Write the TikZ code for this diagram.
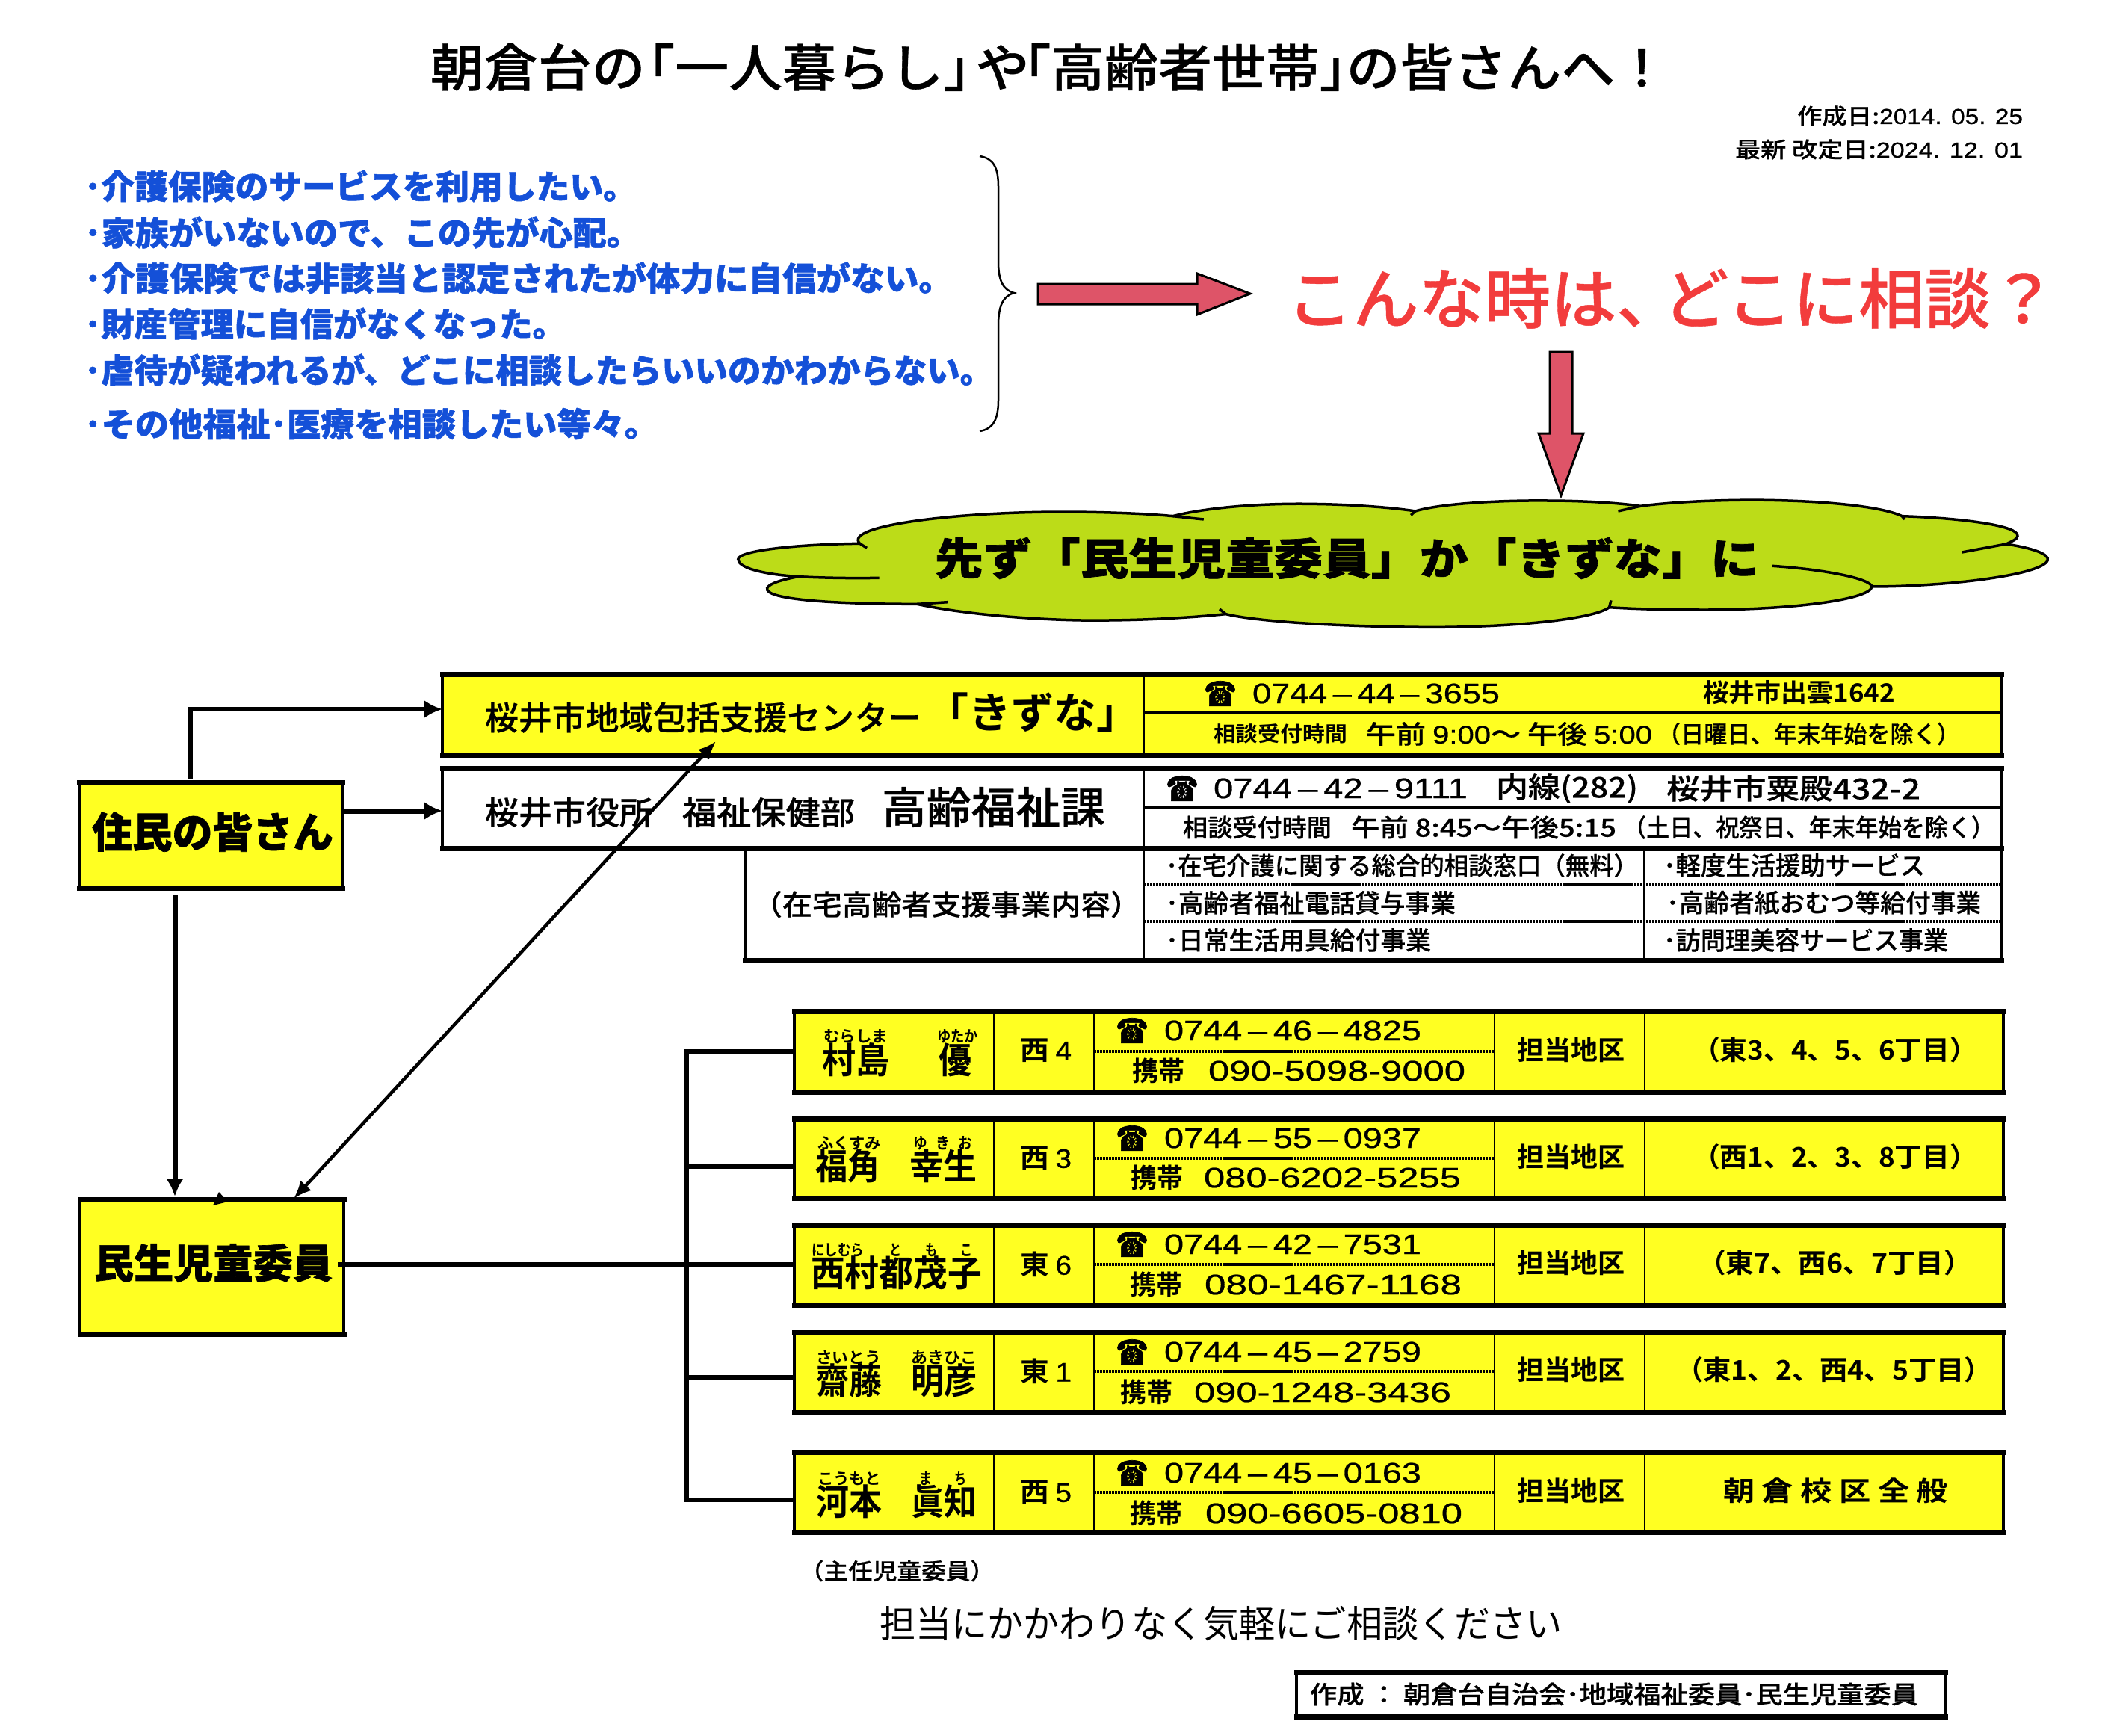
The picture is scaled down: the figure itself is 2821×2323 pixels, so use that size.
\documentclass[tikz,border=0pt]{standalone}
\usepackage{fontspec}
\usepackage{graphicx}
\usetikzlibrary{arrows.meta}
\newfontfamily\jr{Noto Sans CJK JP}
\newfontfamily\jm[FakeBold=0.5]{Noto Sans CJK JP Medium}
\newfontfamily\jb{Noto Sans CJK JP Bold}
\newfontfamily\jk{Noto Sans CJK JP Black}
\newfontfamily\jkk[FakeBold=1.2]{Noto Sans CJK JP Black}
\newfontfamily\ar[FakeBold=0.6]{Liberation Sans}
\newfontfamily\dv[FakeBold=1.5]{DejaVu Sans}
\definecolor{yel}{HTML}{FFFF22}
\definecolor{cloudg}{HTML}{BCDC18}
\definecolor{bluet}{HTML}{1450D8}
\definecolor{redt}{HTML}{F23C3C}
\definecolor{reda}{HTML}{DE5468}
\tikzset{
  txt/.style={inner sep=0pt,outer sep=0pt,anchor=west},
  conn/.style={line width=6pt,black},
  tip/.style={-{Latex[length=24pt,width=24pt]}},
  thin div/.style={line width=2.5pt},
  dots/.style={line width=3.5pt,dash pattern=on 2.5pt off 1.5pt},
  bigarrow/.style={draw=black,line width=3pt,fill=reda,line join=miter},
}
% name, x, y, width, size, text
\newcommand{\tx}[6]{\node[txt] (#1) at (#2,#3) {\resizebox{#4pt}{\height}{\fontsize{#5pt}{#5pt}\selectfont #6}};}
% name, x1, y1, x2, y2, fill
\newcommand{\bx}[6]{%
  \node[draw,line width=4pt,fill=#6,rectangle,inner sep=0pt,outer sep=0pt,
    minimum width={(#4-#2)*1pt},minimum height={(#5-#3)*1pt}] (#1) at ({(#2+#4)/2},{(#3+#5)/2}) {};
  \draw[line width=7pt,line cap=rect] (#1.north west) -- (#1.north east);
  \draw[line width=7pt,line cap=rect] (#1.south west) -- (#1.south east);}
% member row: name, top, bottom, mid
\newcommand{\mrow}[4]{%
  \bx{#1}{1063}{#2}{2681}{#3}{yel}
  \draw[thin div] (1330,#2) -- (1330,#3);
  \draw[thin div] (1464,#2) -- (1464,#3);
  \draw[thin div] (2000,#2) -- (2000,#3);
  \draw[thin div] (2201,#2) -- (2201,#3);
  \draw[dots] (1464,#4) -- (2000,#4);
  \tx{#1area}{2030}{#4-2}{144}{36}{\jb 担当地区}}
\newcommand{\phone}[3]{% name, y, number
  \tx{#1icon}{1493}{#2}{44}{46}{\dv ☎}
  \tx{#1num}{1558}{#2}{344}{38}{\ar #3}}
\newcommand{\mobile}[5]{% name, x, y, numx, number
  \tx{#1mob}{#2}{#3}{70}{36}{\jb 携帯}
  \tx{#1mobn}{#4}{#3}{344}{38}{\ar #5}}
\begin{document}
\begin{tikzpicture}[x=1pt,y=-1pt]
\useasboundingbox (0,0) rectangle (2821,2323);
\fill[white] (0,0) rectangle (2821,2323);

% Title
\tx{title}{576}{90}{1657}{68}{\jm 朝倉台の\hspace{-.45em}「一人暮らし」\hspace{-.4em}や\hspace{-.6em}「高齢者世帯」\hspace{-.5em}の皆さんへ！}
\tx{date1}{2405}{155}{302}{29}{\jm 作成日:{\ar 2014. 05. 25}}
\tx{date2}{2322}{200}{385}{29}{\jm 最新 改定日:{\ar 2024. 12. 01}}

% Blue list
\tx{b1}{113}{249}{739}{44}{\color{bluet}\jkk ･介護保険のサービスを利用したい。}
\tx{b2}{113}{311}{744}{44}{\color{bluet}\jkk ･家族がいないので、この先が心配。}
\tx{b3}{113}{372}{1162}{44}{\color{bluet}\jkk ･介護保険では非該当と認定されたが体力に自信がない。}
\tx{b4}{113}{433}{644}{44}{\color{bluet}\jkk ･財産管理に自信がなくなった。}
\tx{b5}{113}{495}{1216}{44}{\color{bluet}\jkk ･虐待が疑われるが、どこに相談したらいいのかわからない。}
\tx{b6}{113}{567}{768}{44}{\color{bluet}\jkk ･その他福祉･医療を相談したい等々。}

% Brace
\draw[line width=2.5pt] (1311,209) .. controls (1330,212) and (1336,225) .. (1336,250) -- (1336,350)
  .. controls (1336,375) and (1342,388) .. (1357,392) .. controls (1342,396) and (1336,410) .. (1336,435)
  -- (1336,535) .. controls (1336,560) and (1330,574) .. (1311,577);

% Red arrows and question
\draw[bigarrow] (1389,380) -- (1602,380) -- (1602,366) -- (1673,393) -- (1602,421) -- (1602,407) -- (1389,407) -- cycle;
\tx{question}{1722}{399}{1030}{88}{\color{redt}\jm こんな時は、\hspace{-.3em}どこに相談？}
\draw[bigarrow] (2074,471) -- (2104,471) -- (2104,580) -- (2119,580) -- (2089,663) -- (2059,580) -- (2074,580) -- cycle;

% Cloud
\begin{scope}[shift={(950,640)},x=1.18pt,y=-0.3333pt]
\draw[line width=3.5pt,fill=cloudg,line join=miter]
 (32,325) .. controls (32,290) and (100,265) .. (170,262)
 .. controls (150,190) and (280,135) .. (400,135) .. controls (450,135) and (500,143) .. (525,152)
 .. controls (560,120) and (620,100) .. (680,103) .. controls (730,105) and (775,118) .. (800,132)
 .. controls (830,100) and (900,88) .. (950,90) .. controls (990,90) and (1035,100) .. (1055,112)
 .. controls (1090,95) and (1150,85) .. (1200,88) .. controls (1270,92) and (1330,115) .. (1352,152)
 .. controls (1420,160) and (1485,190) .. (1483,232) .. controls (1483,245) and (1475,255) .. (1470,264)
 .. controls (1500,280) and (1520,305) .. (1517,330) .. controls (1510,390) and (1400,435) .. (1318,435)
 .. controls (1315,490) and (1220,530) .. (1120,528) .. controls (1085,528) and (1050,525) .. (1020,518)
 .. controls (1000,570) and (900,600) .. (810,598) .. controls (710,595) and (620,575) .. (585,545)
 .. controls (530,565) and (470,572) .. (420,570) .. controls (350,565) and (280,540) .. (235,505)
 .. controls (150,505) and (60,490) .. (65,440) .. controls (68,420) and (85,405) .. (100,395)
 .. controls (60,385) and (32,360) .. (32,325) -- cycle;
\draw[line width=3.5pt] (100,395) .. controls (130,400) and (160,402) .. (192,400);
\draw[line width=3.5pt] (235,505) -- (270,497);
\draw[line width=3.5pt] (525,152) -- (560,165);
\draw[line width=3.5pt] (800,132) -- (795,148);
\draw[line width=3.5pt] (1055,112) -- (1030,132);
\draw[line width=3.5pt] (1470,264) -- (1420,297);
\draw[line width=3.5pt] (1318,435) .. controls (1315,400) and (1260,365) .. (1205,352);
\draw[line width=3.5pt] (1020,518) -- (1022,490);
\draw[line width=3.5pt] (585,545) -- (578,525);
\draw[line width=3.5pt] (1352,152) -- (1355,165);
\draw[line width=3.5pt] (170,262) -- (178,280);
\end{scope}
\tx{cloudtext}{1251}{747}{1103}{58}{\jkk 先ず「民生児童委員」か「きずな」に}

% Kizuna box
\bx{kizuna}{592}{902}{2678}{1010}{yel}
\draw[thin div] (1531,902) -- (1531,1010);
\draw[line width=3pt] (1531,953) -- (2678,953);
\tx{k1}{649}{960}{584}{44}{\jm 桜井市地域包括支援センター}
\tx{k2}{1239}{953}{285}{56}{\jb 「きずな」}
\tx{k3}{1611}{928}{44}{46}{\dv ☎}
\tx{k4}{1676}{928}{331}{38}{\ar 0744\,–\,44\,–\,3655}
\tx{k5}{2279}{927}{257}{34}{\jb 桜井市出雲1642}
\tx{k6}{1624}{982}{179}{28}{\jb 相談受付時間}
\tx{k7}{1828}{982}{383}{34}{\jm 午前 {\ar 9:00}〜 午後 {\ar 5:00}}
\tx{k8}{2218}{982}{405}{32}{\jm （日曜日、年末年始を除く）}

% Lower box, then Koureika box
\bx{lowbox}{997}{1135}{2678}{1285}{white}
\bx{koureika}{592}{1028}{2678}{1135}{white}
\draw[thin div] (1531,1028) -- (1531,1285);
\draw[line width=3pt] (1531,1080) -- (2678,1080);
\draw[thin div] (2200,1135) -- (2200,1285);
\draw[dots] (1531,1184) -- (2678,1184);
\draw[dots] (1531,1233) -- (2678,1233);
\tx{s1}{649}{1087}{225}{43}{\jm 桜井市役所}
\tx{s2}{913}{1087}{231}{43}{\jm 福祉保健部}
\tx{s3}{1180}{1080}{299}{58}{\jm 高齢福祉課}
\tx{s4}{1560}{1055}{44}{46}{\dv ☎}
\tx{s5}{1624}{1055}{340}{38}{\ar 0744\,–\,42\,–\,9111}
\tx{s6}{2002}{1055}{190}{38}{\jm 内線(282)}
\tx{s7}{2230}{1055}{340}{38}{\jm 桜井市粟殿432-2}
\tx{s8}{1583}{1107}{199}{33}{\jm 相談受付時間}
\tx{s9}{1808}{1107}{355}{33}{\jm 午前 8:45〜午後5:15}
\tx{s10}{2172}{1107}{497}{33}{\jm （土日、祝祭日、年末年始を除く）}
\tx{s11}{1007}{1210}{519}{38}{\jm （在宅高齢者支援事業内容）}
\tx{c1}{1560}{1158}{632}{33}{\jm ･在宅介護に関する総合的相談窓口（無料）}
\tx{c2}{1560}{1208}{388}{34}{\jm ･高齢者福祉電話貸与事業}
\tx{c3}{1560}{1258}{355}{34}{\jm ･日常生活用具給付事業}
\tx{c4}{2226}{1158}{350}{34}{\jm ･軽度生活援助サービス}
\tx{c5}{2230}{1208}{421}{34}{\jm ･高齢者紙おむつ等給付事業}
\tx{c6}{2226}{1258}{381}{34}{\jm ･訪問理美容サービス事業}

% Residents and commissioners
\bx{juumin}{106}{1047}{458}{1188}{yel}
\tx{juumint}{123}{1113}{323}{56}{\jkk 住民の皆さん}
\bx{minsei}{107}{1605}{460}{1785}{yel}
\tx{minseit}{126}{1690}{319}{54}{\jkk 民生児童委員}

% Member rows
\mrow{r1}{1353}{1461}{1407}
\tx{r1ra}{1102}{1387}{86}{21}{\jb むらしま}
\tx{r1rb}{1254}{1387}{55}{21}{\jb ゆたか}
\tx{r1na}{1100}{1418}{90}{48}{\jb 村島}
\tx{r1nb}{1256}{1418}{44}{48}{\jb 優}
\tx{r1w}{1365}{1406}{69}{36}{\jb 西 {\ar 4}}
\phone{r1}{1379}{0744\,–\,46\,–\,4825}
\mobile{r1}{1515}{1433}{1617}{090-5098-9000}

\mrow{r2}{1497}{1603}{1550}
\tx{r2ra}{1094}{1530}{85}{21}{\jb ふくすみ}
\tx{r2rb}{1222}{1530}{79}{21}{\jb ゆ\hspace{.6em}き\hspace{.6em}お}
\tx{r2na}{1091}{1560}{86}{48}{\jb 福角}
\tx{r2nb}{1217}{1560}{90}{48}{\jb 幸生}
\tx{r2w}{1365}{1550}{69}{36}{\jb 西 {\ar 3}}
\phone{r2}{1523}{0744\,–\,55\,–\,0937}
\mobile{r2}{1513}{1576}{1611}{080-6202-5255}

\mrow{r3}{1639}{1746}{1692}
\tx{r3ra}{1086}{1673}{70}{21}{\jb にしむら}
\tx{r3rb}{1190}{1673}{16}{21}{\jb と}
\tx{r3rc}{1238}{1673}{16}{21}{\jb も}
\tx{r3rd}{1285}{1673}{16}{21}{\jb こ}
\tx{r3na}{1085}{1703}{229}{48}{\jb 西村都茂子}
\tx{r3w}{1365}{1692}{69}{36}{\jb 東 {\ar 6}}
\phone{r3}{1665}{0744\,–\,42\,–\,7531}
\mobile{r3}{1512}{1719}{1612}{080-1467-1168}

\mrow{r4}{1783}{1890}{1835}
\tx{r4ra}{1092}{1817}{87}{21}{\jb さいとう}
\tx{r4rb}{1219}{1817}{88}{21}{\jb あきひこ}
\tx{r4na}{1092}{1847}{88}{48}{\jb 齋藤}
\tx{r4nb}{1219}{1847}{88}{48}{\jb 明彦}
\tx{r4w}{1365}{1835}{69}{36}{\jb 東 {\ar 1}}
\phone{r4}{1809}{0744\,–\,45\,–\,2759}
\mobile{r4}{1499}{1863}{1598}{090-1248-3436}

\mrow{r5}{1943}{2050}{1997}
\tx{r5ra}{1094}{1979}{85}{21}{\jb こうもと}
\tx{r5rb}{1230}{1979}{17}{21}{\jb ま}
\tx{r5rc}{1277}{1979}{16}{21}{\jb ち}
\tx{r5na}{1092}{2009}{88}{48}{\jb 河本}
\tx{r5nb}{1219}{2009}{88}{48}{\jb 眞知}
\tx{r5w}{1365}{1997}{69}{36}{\jb 西 {\ar 5}}
\phone{r5}{1971}{0744\,–\,45\,–\,0163}
\mobile{r5}{1512}{2025}{1613}{090-6605-0810}

\tx{a1}{2265}{1405}{381}{36}{\jb （東3、4、5、6丁目）}
\tx{a2}{2265}{1548}{381}{36}{\jb （西1、2、3、8丁目）}
\tx{a3}{2272}{1690}{367}{36}{\jb （東7、西6、7丁目）}
\tx{a4}{2242}{1833}{424}{36}{\jb （東1、2、西4、5丁目）}
\tx{a5}{2306}{1995}{301}{36}{\jb 朝 倉 校 区 全 般}

% Footer
\tx{chief}{1070}{2102}{261}{30}{\jm （主任児童委員）}
\tx{advice}{1177}{2173}{914}{50}{\jr 担当にかかわりなく気軽にご相談ください}
\bx{credit}{1735}{2238}{2603}{2297}{white}
\tx{creditt}{1753}{2267}{814}{33}{\jm 作成 ： 朝倉台自治会･地域福祉委員･民生児童委員}

% Connectors
\coordinate (jtop) at (255,1042);
\coordinate (kzin) at (kizuna.west |- 0,949);
\coordinate (joutr) at (juumin.east |- 0,1085);
\coordinate (kzoin) at (koureika.west |- 0,1085);
\coordinate (jdown) at (234,1197);
\coordinate (mtop) at (234,1601);
\coordinate (mne) at (393,1604);
\coordinate (kbot) at (958,992);
\coordinate (trunk) at (919,1000);
\coordinate (b1) at (1063,1407);
\coordinate (b2) at (1063,1561);
\coordinate (b3) at (1063,1692);
\coordinate (b4) at (1063,1843);
\coordinate (b5) at (1063,2007);
\coordinate (mstart) at (452,1692);
\draw[conn,tip] (jtop) |- (kzin);
\draw[conn,line width=7pt,tip] (joutr) -- (kzoin);
\draw[conn,line width=7pt,tip] (jdown) -- (mtop);
\draw[line width=4.5pt,{Latex[length=24pt,width=20pt]}-{Latex[length=24pt,width=20pt]}] (mne) -- (kbot);
\fill (305,1608) -- (285,1613) -- (293,1595) -- cycle;
\draw[conn,line width=7pt] (mstart) -- (b3);
\draw[conn] (b1) -- (b1 -| trunk) -- (b5 -| trunk) -- (b5);
\draw[conn] (b2) -- (b2 -| trunk);
\draw[conn] (b4) -- (b4 -| trunk);
\end{tikzpicture}
\end{document}
